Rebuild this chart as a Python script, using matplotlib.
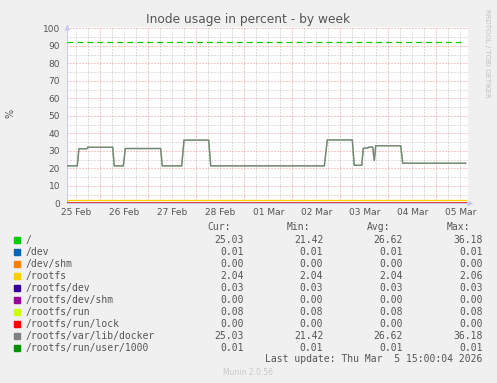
import matplotlib
matplotlib.use("Agg")
import matplotlib.pyplot as plt
from matplotlib.ticker import MultipleLocator, FixedLocator, NullFormatter
from matplotlib.transforms import blended_transform_factory

W, H = 497, 383

# ---- data (time in days since 25 Feb 00:00) ----
t_start = 0.30
t_end = 8.6125
times = [0.30, 0.52, 0.555, 0.72, 0.7375, 1.258, 1.29, 1.479, 1.521, 2.258, 2.29,
         2.696, 2.744, 3.258, 3.30, 5.667, 5.729, 6.25, 6.29, 6.446, 6.479, 6.575,
         6.59, 6.675, 6.708, 6.738, 7.258, 7.30, 8.6125]
root_vals = [21.4, 21.4, 31.2, 31.2, 32.0, 32.0, 21.4, 21.4, 31.3, 31.3, 21.4,
             21.4, 36.1, 36.1, 21.4, 21.4, 36.2, 36.2, 21.7, 21.7, 31.4, 31.6,
             32.0, 32.2, 24.2, 32.9, 32.9, 22.9, 22.9]
docker_vals = root_vals

names = ["/", "/dev", "/dev/shm", "/rootfs", "/rootfs/dev", "/rootfs/dev/shm",
         "/rootfs/run", "/rootfs/run/lock", "/rootfs/var/lib/docker",
         "/rootfs/run/user/1000"]
colors = ["#00CC00", "#0066B3", "#FF8000", "#FFCC00", "#330099", "#990099",
          "#CCFF00", "#FF0000", "#808080", "#008F00"]
const_vals = [None, 0.01, 0.00, 2.04, 0.03, 0.00, 0.08, 0.00, None, 0.01]
cur = ["25.03", "0.01", "0.00", "2.04", "0.03", "0.00", "0.08", "0.00", "25.03", "0.01"]
mins = ["21.42", "0.01", "0.00", "2.04", "0.03", "0.00", "0.08", "0.00", "21.42", "0.01"]
avgs = ["26.62", "0.01", "0.00", "2.04", "0.03", "0.00", "0.08", "0.00", "26.62", "0.01"]
maxs = ["36.18", "0.01", "0.00", "2.06", "0.03", "0.00", "0.08", "0.00", "36.18", "0.01"]
warning = 92
day_labels = ["25 Feb", "26 Feb", "27 Feb", "28 Feb", "01 Mar", "02 Mar",
              "03 Mar", "04 Mar", "05 Mar"]

# ---- figure ----
fig = plt.figure(figsize=(W / 100, H / 100), dpi=100, facecolor="#F0F0F0")
ax = fig.add_axes([66.7 / W, 1 - 203.3 / H, (467.7 - 66.7) / W, (203.3 - 27.3) / H])
ax.set_facecolor("white")
ax.set_xlim(t_start, 8.654)
ax.set_ylim(0, 100.57)

TXT = "#555555"
LW = 0.72

# grid
ax.xaxis.set_major_locator(MultipleLocator(1))
ax.xaxis.set_minor_locator(MultipleLocator(0.25))
ax.yaxis.set_major_locator(FixedLocator(list(range(0, 101, 10))))
ax.yaxis.set_minor_locator(FixedLocator(list(range(5, 100, 10))))
ax.xaxis.set_major_formatter(NullFormatter())
ax.grid(True, which="major", color="#EE9090", lw=LW, ls=(0, (1, 2)))
ax.grid(True, which="minor", color="#C0C0C0", lw=LW, ls=(0, (1, 2)))
ax.set_axisbelow(True)
ax.tick_params(which="both", length=0)
ax.tick_params(axis="y", labelsize=6.5, labelcolor=TXT, pad=4.8)

for s in ["top", "right"]:
    ax.spines[s].set_visible(False)
for s in ["left", "bottom"]:
    ax.spines[s].set_color("#C8C8F0")
    ax.spines[s].set_linewidth(LW)

# arrows
ax.plot([0], [1.0], transform=ax.transAxes, marker="^", ms=4, color="#C8C8F0",
        clip_on=False, mec="none")
ax.plot([1.005], [0], transform=ax.transAxes, marker=">", ms=4, color="#C8C8F0",
        clip_on=False, mec="none")

# x labels at noon
tr = blended_transform_factory(ax.transData, ax.transAxes)
for i, lab in enumerate(day_labels):
    ax.text(i + 0.5, -9.4 / 176, lab, transform=tr, ha="center", va="center",
            fontsize=6.5, color=TXT)

# warning line
ax.plot([t_start, 8.52], [warning, warning], color="#00CC00", lw=LW * 1.2,
        ls=(0, (5, 3.3)), zorder=3)

# series
for i in range(10):
    if const_vals[i] is None:
        vals = root_vals if i == 0 else docker_vals
        ax.plot(times, vals, color=colors[i], lw=1.0,
                alpha=0.5 if i == 0 else 1.0,
                zorder=4 + (i == 8), solid_joinstyle="miter")
    else:
        is_lock = names[i] == "/rootfs/run/lock"
        ax.plot([t_start, t_end], [const_vals[i], const_vals[i]], color=colors[i],
                lw=1.4 if is_lock else LW * 1.3, zorder=6 if is_lock else 4,
                alpha=0.6 if is_lock else 1)

# ---- text ----
def fx(x):
    return x / W

def fy(y):
    return 1 - y / H

fig.text(fx(248), fy(19.3), "Inode usage in percent - by week", ha="center",
         va="center", fontsize=8.8, color=TXT)
fig.text(fx(10), fy(113), "%", ha="center", va="center", rotation=90,
         fontsize=7, color=TXT)
fig.text(fx(487.3), fy(53), "RRDTOOL / TOBI OETIKER", ha="center", va="center",
         rotation=270, fontsize=5, color="#C0C0C0")

MONO = "DejaVu Sans Mono"
MS = 7
cols_r = [243.7, 323.3, 402.7, 482.7]
heads = ["Cur:", "Min:", "Avg:", "Max:"]
for xr, hd in zip(cols_r, heads):
    fig.text(fx(xr - 12.7), fy(227.3), hd, ha="right", va="center",
             family=MONO, fontsize=MS, color=TXT)

for i, nm in enumerate(names):
    yc = 240 + 12 * i
    fig.patches.append(plt.Rectangle((fx(14), fy(yc + 3)), 6 / W, 6 / H,
                                     transform=fig.transFigure, color=colors[i],
                                     figure=fig))
    fig.text(fx(26), fy(yc), nm, ha="left", va="center", family=MONO,
             fontsize=MS, color=TXT)
    for xr, arr in zip(cols_r, [cur, mins, avgs, maxs]):
        fig.text(fx(xr), fy(yc), arr[i], ha="right", va="center", family=MONO,
                 fontsize=MS, color=TXT)

fig.text(fx(482.7), fy(359.3), "Last update: Thu Mar  5 15:00:04 2026",
         ha="right", va="center", family=MONO, fontsize=MS, color=TXT)
fig.text(fx(248), fy(372.3), "Munin 2.0.56", ha="center", va="center",
         fontsize=5.5, color="#C8C8C8")

fig.savefig("out.png", dpi=100, facecolor=fig.get_facecolor())
